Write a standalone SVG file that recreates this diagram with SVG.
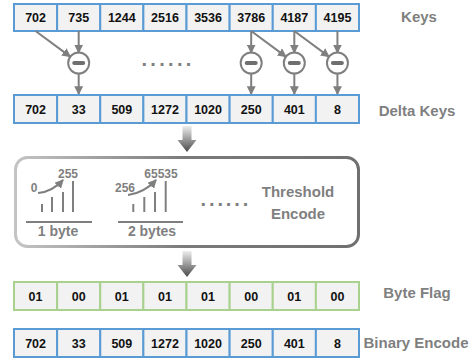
<svg xmlns="http://www.w3.org/2000/svg" width="475" height="360" viewBox="0 0 475 360">
<style>
.cb{fill:#F2F2F2;stroke:#5B9BD5;stroke-width:2}
.cg{fill:#F2F2F2;stroke:#A9D18E;stroke-width:2}
.ct{font-family:"Liberation Sans",Arial,sans-serif;font-weight:bold;font-size:12.5px;fill:#111;text-anchor:middle}
.lb{font-family:"Liberation Sans",Arial,sans-serif;font-weight:bold;font-size:15px;fill:#7F7F7F;text-anchor:middle}
.sm{font-family:"Liberation Sans",Arial,sans-serif;font-weight:bold;font-size:12px;fill:#7F7F7F;text-anchor:middle}
.md{font-family:"Liberation Sans",Arial,sans-serif;font-weight:bold;font-size:14px;fill:#7F7F7F;text-anchor:middle}
.dots{font-family:"Liberation Sans",Arial,sans-serif;font-weight:bold;font-size:20px;fill:#7F7F7F}
.ar{stroke:#7F7F7F;stroke-width:2;fill:none;marker-end:url(#ah)}
.g{stroke:#7F7F7F;stroke-width:2;fill:none}
.op circle{fill:#fff;stroke:#7F7F7F;stroke-width:2}
.op line{stroke:#6F6F6F;stroke-width:4;stroke-linecap:round}
</style>
<defs>
<marker id="ah" markerUnits="userSpaceOnUse" markerWidth="9" markerHeight="9" viewBox="0 0 8 8" refX="7" refY="4" orient="auto">
<path d="M0,0 L8,4 L0,8 z" fill="#7F7F7F"/>
</marker>
<linearGradient id="bg" x1="0" y1="0" x2="0" y2="1">
<stop offset="0" stop-color="#EDEDED"/>
<stop offset="1" stop-color="#4A4A4A"/>
</linearGradient>
<linearGradient id="bs" x1="0" y1="0" x2="1" y2="0">
<stop offset="0" stop-color="#C4C4C4"/>
<stop offset="0.5" stop-color="#7A7A7A"/>
<stop offset="1" stop-color="#707070"/>
</linearGradient>
</defs>

<g id="keys">
<rect class="cb" x="14" y="4" width="43.125" height="27"/>
<rect class="cb" x="57.125" y="4" width="43.125" height="27"/>
<rect class="cb" x="100.25" y="4" width="43.125" height="27"/>
<rect class="cb" x="143.375" y="4" width="43.125" height="27"/>
<rect class="cb" x="186.5" y="4" width="43.125" height="27"/>
<rect class="cb" x="229.625" y="4" width="43.125" height="27"/>
<rect class="cb" x="272.75" y="4" width="43.125" height="27"/>
<rect class="cb" x="315.875" y="4" width="43.125" height="27"/>
<text class="ct" x="35.56" y="22">702</text>
<text class="ct" x="78.69" y="22">735</text>
<text class="ct" x="121.81" y="22">1244</text>
<text class="ct" x="164.94" y="22">2516</text>
<text class="ct" x="208.06" y="22">3536</text>
<text class="ct" x="251.19" y="22">3786</text>
<text class="ct" x="294.31" y="22">4187</text>
<text class="ct" x="337.44" y="22">4195</text>
<text class="lb" x="419" y="22">Keys</text>
</g>

<g id="ops" class="op">
<circle cx="78.69" cy="63" r="10.5"/><line x1="74.2" y1="63" x2="83.2" y2="63"/>
<circle cx="251.19" cy="63" r="10.5"/><line x1="246.7" y1="63" x2="255.7" y2="63"/>
<circle cx="294.31" cy="63" r="10.5"/><line x1="289.8" y1="63" x2="298.8" y2="63"/>
<circle cx="337.44" cy="63" r="10.5"/><line x1="332.9" y1="63" x2="341.9" y2="63"/>
</g>
<text class="dots" x="141.5" y="65.7" letter-spacing="3.3">......</text>

<g id="connectors">
<line class="ar" x1="35.56" y1="31" x2="70.2" y2="56.6"/>
<line class="ar" x1="78.69" y1="31" x2="78.69" y2="52.5"/>
<line class="ar" x1="78.69" y1="73.5" x2="78.69" y2="94"/>
<line class="ar" x1="251.19" y1="31" x2="251.19" y2="52.5"/>
<line class="ar" x1="251.19" y1="73.5" x2="251.19" y2="94"/>
<line class="ar" x1="251.19" y1="31" x2="285.8" y2="56.6"/>
<line class="ar" x1="294.31" y1="31" x2="294.31" y2="52.5"/>
<line class="ar" x1="294.31" y1="73.5" x2="294.31" y2="94"/>
<line class="ar" x1="294.31" y1="31" x2="328.9" y2="56.6"/>
<line class="ar" x1="337.44" y1="31" x2="337.44" y2="52.5"/>
<line class="ar" x1="337.44" y1="73.5" x2="337.44" y2="94"/>
<polygon points="182.5,126 191.5,126 191.5,140 196.5,140 187,152 177.5,140 182.5,140" fill="url(#bg)"/>
<polygon points="182.5,251 191.5,251 191.5,265 196.5,265 187,277 177.5,265 182.5,265" fill="url(#bg)"/>
</g>

<g id="delta">
<rect class="cb" x="14" y="95" width="43.125" height="28"/>
<rect class="cb" x="57.125" y="95" width="43.125" height="28"/>
<rect class="cb" x="100.25" y="95" width="43.125" height="28"/>
<rect class="cb" x="143.375" y="95" width="43.125" height="28"/>
<rect class="cb" x="186.5" y="95" width="43.125" height="28"/>
<rect class="cb" x="229.625" y="95" width="43.125" height="28"/>
<rect class="cb" x="272.75" y="95" width="43.125" height="28"/>
<rect class="cb" x="315.875" y="95" width="43.125" height="28"/>
<text class="ct" x="35.56" y="113.5">702</text>
<text class="ct" x="78.69" y="113.5">33</text>
<text class="ct" x="121.81" y="113.5">509</text>
<text class="ct" x="164.94" y="113.5">1272</text>
<text class="ct" x="208.06" y="113.5">1020</text>
<text class="ct" x="251.19" y="113.5">250</text>
<text class="ct" x="294.31" y="113.5">401</text>
<text class="ct" x="337.44" y="113.5">8</text>
<text class="lb" x="417" y="116">Delta Keys</text>
</g>

<g id="threshold">
<rect x="15.5" y="157.5" width="343" height="89" rx="12" fill="#fff" stroke="url(#bs)" stroke-width="3"/>
<text class="sm" x="34" y="192">0</text>
<text class="sm" x="68" y="178">255</text>
<path class="ar" d="M38,193 Q52,192 63,180"/>
<line class="g" x1="42" y1="204" x2="42" y2="212"/>
<line class="g" x1="52" y1="197" x2="52" y2="212"/>
<line class="g" x1="63" y1="192" x2="63" y2="212"/>
<line class="g" x1="73" y1="181" x2="73" y2="212"/>
<line class="g" x1="26" y1="222" x2="92" y2="222"/>
<text class="md" x="58" y="236">1 byte</text>
<text class="sm" x="125" y="192">256</text>
<text class="sm" x="161" y="178">65535</text>
<path class="ar" d="M128,195 Q144,193 156,180"/>
<line class="g" x1="133.3" y1="204" x2="133.3" y2="212"/>
<line class="g" x1="144.3" y1="197" x2="144.3" y2="212"/>
<line class="g" x1="155" y1="192" x2="155" y2="212"/>
<line class="g" x1="165.7" y1="181" x2="165.7" y2="212"/>
<line class="g" x1="118" y1="222" x2="183" y2="222"/>
<text class="md" x="152" y="236">2 bytes</text>
<text class="dots" x="200.5" y="205.7" letter-spacing="2.9">......</text>
<text class="lb" x="298" y="197">Threshold</text>
<text class="lb" x="298" y="219">Encode</text>
</g>

<g id="flags">
<rect class="cg" x="14" y="282" width="43.125" height="28"/>
<rect class="cg" x="57.125" y="282" width="43.125" height="28"/>
<rect class="cg" x="100.25" y="282" width="43.125" height="28"/>
<rect class="cg" x="143.375" y="282" width="43.125" height="28"/>
<rect class="cg" x="186.5" y="282" width="43.125" height="28"/>
<rect class="cg" x="229.625" y="282" width="43.125" height="28"/>
<rect class="cg" x="272.75" y="282" width="43.125" height="28"/>
<rect class="cg" x="315.875" y="282" width="43.125" height="28"/>
<text class="ct" x="35.56" y="300.5">01</text>
<text class="ct" x="78.69" y="300.5">00</text>
<text class="ct" x="121.81" y="300.5">01</text>
<text class="ct" x="164.94" y="300.5">01</text>
<text class="ct" x="208.06" y="300.5">01</text>
<text class="ct" x="251.19" y="300.5">00</text>
<text class="ct" x="294.31" y="300.5">01</text>
<text class="ct" x="337.44" y="300.5">00</text>
<text class="lb" x="417" y="298">Byte Flag</text>
</g>

<g id="binary">
<rect class="cb" x="14" y="329" width="43.125" height="28"/>
<rect class="cb" x="57.125" y="329" width="43.125" height="28"/>
<rect class="cb" x="100.25" y="329" width="43.125" height="28"/>
<rect class="cb" x="143.375" y="329" width="43.125" height="28"/>
<rect class="cb" x="186.5" y="329" width="43.125" height="28"/>
<rect class="cb" x="229.625" y="329" width="43.125" height="28"/>
<rect class="cb" x="272.75" y="329" width="43.125" height="28"/>
<rect class="cb" x="315.875" y="329" width="43.125" height="28"/>
<text class="ct" x="35.56" y="347.5">702</text>
<text class="ct" x="78.69" y="347.5">33</text>
<text class="ct" x="121.81" y="347.5">509</text>
<text class="ct" x="164.94" y="347.5">1272</text>
<text class="ct" x="208.06" y="347.5">1020</text>
<text class="ct" x="251.19" y="347.5">250</text>
<text class="ct" x="294.31" y="347.5">401</text>
<text class="ct" x="337.44" y="347.5">8</text>
<text class="lb" x="416" y="348">Binary Encode</text>
</g>
</svg>
